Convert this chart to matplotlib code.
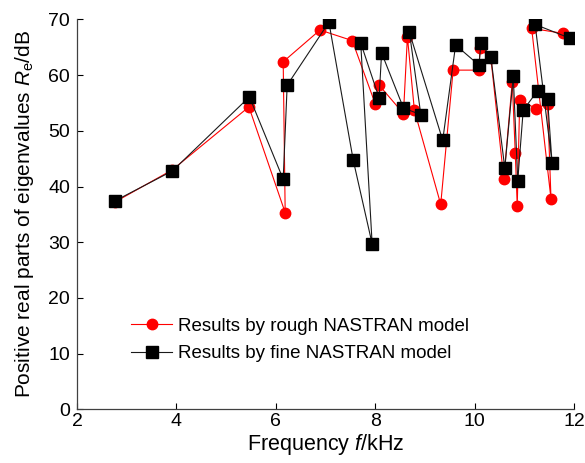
import matplotlib.pyplot as plt

plt.rcParams['font.family'] = ['Liberation Sans', 'DejaVu Sans']
plt.rcParams['mathtext.fontset'] = 'custom'
plt.rcParams['mathtext.rm'] = 'Liberation Sans'
plt.rcParams['mathtext.it'] = 'Liberation Sans:italic'

# rough NASTRAN model (points in drawing order)
rough_f = [2.76, 3.92, 5.46, 6.19, 6.15, 6.89, 7.54, 8.00, 8.08, 8.57, 8.65, 8.79,
           9.32, 9.57, 10.09, 10.11, 10.33, 10.59, 10.76, 10.82, 10.86, 10.91,
           11.24, 11.47, 11.54, 11.15, 11.78]
rough_re = [37.2, 43.0, 54.3, 35.3, 62.4, 68.1, 66.2, 54.9, 58.2, 53.1, 66.9, 53.7,
            36.8, 60.9, 60.9, 64.8, 63.0, 41.4, 58.8, 46.1, 36.5, 55.5,
            54.0, 54.9, 37.7, 68.4, 67.5]

# fine NASTRAN model
fine_f = [2.76, 3.92, 5.47, 6.15, 6.23, 7.07, 7.56, 7.94, 7.71, 8.08, 8.13, 8.57,
          8.92, 8.69, 9.36, 9.62, 10.09, 10.13, 10.33, 10.61, 10.78, 10.87,
          10.98, 11.27, 11.47, 11.56, 11.22, 11.93]
fine_re = [37.4, 42.8, 56.1, 41.3, 58.2, 69.5, 44.7, 29.7, 65.8, 55.9, 64.0, 54.1,
           52.9, 67.7, 48.3, 65.4, 61.8, 65.7, 63.2, 43.3, 59.8, 41.0,
           53.7, 57.2, 55.7, 44.3, 69.1, 66.6]

fig = plt.figure(figsize=(5.85, 4.63), dpi=100)
ax = fig.add_axes([0.1316, 0.116, 0.8494, 0.842])

ax.plot(rough_f, rough_re, '-o', color='red', lw=0.8, ms=7.5, mec='red', mfc='red',
        label='Results by rough NASTRAN model')
ax.plot(fine_f, fine_re, '-s', color='#1a1a1a', lw=0.8, ms=8.5, mec='black', mfc='black',
        label='Results by fine NASTRAN model')

ax.set_xlim(2, 12)
ax.set_ylim(0, 70)
ax.set_xticks([2, 4, 6, 8, 10, 12])
ax.set_yticks(range(0, 71, 10))
ax.tick_params(direction='in', labelsize=14, length=4, width=0.8)
ax.tick_params(axis='y', pad=5)
ax.tick_params(axis='x', pad=3)
for s in ['top', 'right']:
    ax.spines[s].set_visible(False)
for s in ['left', 'bottom']:
    ax.spines[s].set_color('#404040')
    ax.spines[s].set_linewidth(0.9)

ax.set_xlabel('Frequency $\\it{f}$/kHz', fontsize=15.5, labelpad=1)
ax.set_ylabel('Positive real parts of eigenvalues $\\it{R}_{\\rm e}$/dB', fontsize=15, labelpad=9)

ax.legend(loc='upper left', bbox_to_anchor=(0.094, 0.254), frameon=False, fontsize=13.5,
          handlelength=2.2, handletextpad=0.3, labelspacing=0.55, borderaxespad=0)

fig.savefig('out.png', dpi=100)
